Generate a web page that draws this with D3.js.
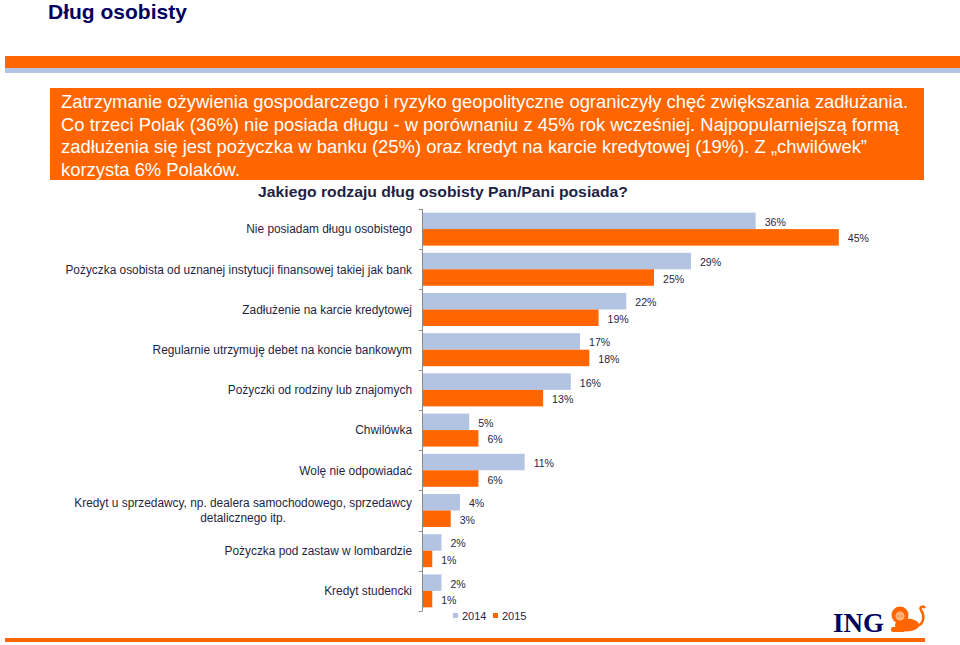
<!DOCTYPE html>
<html><head><meta charset="utf-8">
<script src="https://cdn.jsdelivr.net/npm/d3@7"></script>
<style>body{margin:0;background:#fff}svg{display:block;font-family:"Liberation Sans",Arial,sans-serif}</style>
</head><body><svg id="c" width="960" height="645"></svg>
<script>
const titleText = "Dług osobisty";
const bannerLines = [
  "Zatrzymanie ożywienia gospodarczego i ryzyko geopolityczne ograniczyły chęć zwiększania zadłużania.",
  "Co trzeci Polak (36%) nie posiada długu - w porównaniu z 45% rok wcześniej. Najpopularniejszą formą",
  "zadłużenia się jest pożyczka w banku (25%) oraz kredyt na karcie kredytowej (19%). Z „chwilówek”",
  "korzysta 6% Polaków."
];
const subtitleText = "Jakiego rodzaju dług osobisty Pan/Pani posiada?";
const categories = [
  "Nie posiadam długu osobistego",
  "Pożyczka osobista od uznanej instytucji finansowej takiej jak bank",
  "Zadłużenie na karcie kredytowej",
  "Regularnie utrzymuję debet na koncie bankowym",
  "Pożyczki od rodziny lub znajomych",
  "Chwilówka",
  "Wolę nie odpowiadać",
  "Kredyt u sprzedawcy, np. dealera samochodowego, sprzedawcy\ndetalicznego itp.",
  "Pożyczka pod zastaw w lombardzie",
  "Kredyt studencki"
];
const series = ["2014", "2015"];
const values2014 = [36, 29, 22, 17, 16, 5, 11, 4, 2, 2];
const values2015 = [45, 25, 19, 18, 13, 6, 6, 3, 1, 1];

const ORANGE = "#FF6600", BLUE = "#B3C4E3", NAVY = "#00005f", TXT = "#1f1f45";
const svg = d3.select("#c");

// top stripes
svg.append("rect").attr("x",5).attr("y",56).attr("width",955).attr("height",12).attr("fill",ORANGE);
svg.append("rect").attr("x",5).attr("y",68).attr("width",955).attr("height",5).attr("fill",BLUE);
// bottom line
svg.append("rect").attr("x",5).attr("y",638).attr("width",920).attr("height",4).attr("fill",ORANGE);

// title
svg.append("text").attr("x",48).attr("y",19).attr("font-size",21).attr("font-weight","bold")
  .attr("fill",NAVY).text(titleText);

// banner
svg.append("rect").attr("x",50).attr("y",88).attr("width",874).attr("height",92).attr("fill",ORANGE);
const bt = svg.append("g").selectAll("text").data(bannerLines).join("text")
  .attr("x",61).attr("y",(d,i)=>108+i*22.7).attr("font-size",19).attr("fill","#fff").text(d=>d);
const nat = bt.nodes()[0].getComputedTextLength();
const fac = 847/nat;
bt.each(function(){ const w=this.getComputedTextLength(); d3.select(this).attr("textLength",w*fac).attr("lengthAdjust","spacingAndGlyphs"); });

// subtitle
const st = svg.append("text").attr("x",443).attr("y",197).attr("text-anchor","middle")
  .attr("font-size",15.5).attr("font-weight","bold").attr("fill",TXT).text(subtitleText);
st.attr("textLength",370).attr("lengthAdjust","spacingAndGlyphs");

// scales
const y = d3.scaleBand().domain(categories).range([209,611]).paddingInner(0.18).paddingOuter(0.09);
const ys = d3.scaleBand().domain(series).range([0,y.bandwidth()]);
const x = d3.scaleLinear().domain([0,50]).range([423,885]);
const color = d3.scaleOrdinal().domain(series).range([BLUE, ORANGE]);

const rows = categories.map((c,i)=>({cat:c, vals:[{s:"2014",v:values2014[i]},{s:"2015",v:values2015[i]}]}));

const g = svg.append("g");
const rg = g.selectAll("g.row").data(rows).join("g").attr("class","row")
  .attr("transform",d=>`translate(0,${y(d.cat)})`);
rg.selectAll("rect").data(d=>d.vals).join("rect")
  .attr("x",x(0)).attr("y",d=>ys(d.s)).attr("width",d=>x(d.v)-x(0)).attr("height",ys.bandwidth())
  .attr("fill",d=>color(d.s));
rg.selectAll("text.val").data(d=>d.vals).join("text").attr("class","val")
  .attr("x",d=>x(d.v)+9).attr("y",d=>ys(d.s)+ys.bandwidth()/2+1).attr("dy","0.35em")
  .attr("font-size",11.5).attr("fill",TXT).text(d=>d.v+"%")
  .each(function(){ const w=this.getComputedTextLength(); d3.select(this).attr("textLength",w*0.92).attr("lengthAdjust","spacingAndGlyphs"); });

// axis
const ax = svg.append("g").attr("stroke","#8a8a8a").attr("stroke-width",1);
ax.append("line").attr("x1",x(0)-0.5).attr("x2",x(0)-0.5).attr("y1",209).attr("y2",611);
d3.range(categories.length+1).forEach(i=>{
  const yy = Math.round(209 + i*y.step())+0.5;
  ax.append("line").attr("x1",x(0)-4).attr("x2",x(0)-0.5).attr("y1",yy).attr("y2",yy);
});

// category labels
const lab = svg.append("g").attr("font-size",12.5).attr("fill",TXT);
categories.forEach(c=>{
  const cy = y(c)+y.bandwidth()/2;
  const parts = c.split("\n");
  const fit = t => { const w=t.node().getComputedTextLength(); t.attr("textLength",w*0.95).attr("lengthAdjust","spacingAndGlyphs"); return w*0.95; };
  if(parts.length===1){
    const t = lab.append("text").attr("x",412).attr("y",cy).attr("dy","0.35em").attr("text-anchor","end").text(c);
    fit(t);
  } else {
    const t1 = lab.append("text").attr("x",412).attr("y",cy-7.5).attr("dy","0.35em").attr("text-anchor","end").text(parts[0]);
    const w = fit(t1);
    const cx = 412 - w/2;
    t1.attr("x",cx).attr("text-anchor","middle");
    const t2 = lab.append("text").attr("x",cx).attr("y",cy+7.5).attr("dy","0.35em").attr("text-anchor","middle").text(parts[1]);
    fit(t2);
  }
});

// legend
const lg = svg.append("g").selectAll("g").data(series).join("g")
  .attr("transform",(d,i)=>`translate(${453+i*40},613)`);
lg.append("rect").attr("width",5).attr("height",5).attr("fill",d=>color(d));
lg.append("text").attr("x",9).attr("y",3).attr("dy","0.35em").attr("font-size",11).attr("fill",TXT).text(d=>d);

// ING logo
const logo = svg.append("g");
logo.append("text").attr("x",833).attr("y",632).attr("font-family","Liberation Serif, serif")
  .attr("font-weight","bold").attr("font-size",27).attr("fill",NAVY).text("ING");
const lion = logo.append("g").attr("fill",ORANGE);
lion.append("ellipse").attr("cx",907).attr("cy",625).attr("rx",12).attr("ry",6.5);
lion.append("circle").attr("cx",900).attr("cy",615).attr("r",8.5);
lion.append("rect").attr("x",891).attr("y",627).attr("width",14).attr("height",5).attr("rx",2);
lion.append("path").attr("d","M917,626 C924,624 925,616 921,610 C919,607 923,605 925,608")
  .attr("fill","none").attr("stroke",ORANGE).attr("stroke-width",2.5);
lion.append("circle").attr("cx",900).attr("cy",616).attr("r",4.5).attr("fill","#ffb27a");
lion.append("path").attr("d","M898,616 l1.5,0 M901,616 l1.5,0").attr("stroke",ORANGE).attr("stroke-width",1);
</script></body></html>
